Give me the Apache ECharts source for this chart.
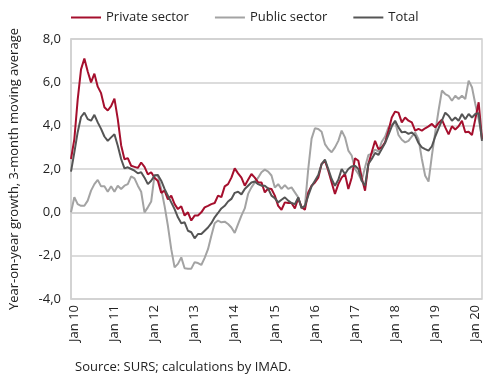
<!DOCTYPE html>
<html>
<head>
<meta charset="utf-8">
<script src="https://cdn.jsdelivr.net/npm/echarts@6/dist/echarts.min.js"></script>
<style>
html,body{margin:0;padding:0;background:#fff;}
#chart{width:490px;height:381px;}
</style>
</head>
<body>
<div id="chart"></div>
<script>
// Monthly data, Dec 2009 .. Mar 2020
const startYear = 2009, startMonth = 11, nPoints = 124;
const monthNames = ["Jan","Feb","Mar","Apr","May","Jun","Jul","Aug","Sep","Oct","Nov","Dec"];
const categories = [];
for (let k = 0; k < nPoints; k++) {
  const m = (startMonth + k) % 12;
  const y = startYear + Math.floor((startMonth + k) / 12);
  categories.push(monthNames[m] + " " + String(y % 100).padStart(2, "0"));
}
const tickLabels = ["Jan 10","Jan 11","Jan 12","Jan 13","Jan 14","Jan 15","Jan 16","Jan 17","Jan 18","Jan 19","Jan 20"];
const yTicks = [-4, -2, 0, 2, 4, 6, 8];

const privateSector = [
  2.46, 3.38, 5.2, 6.6, 7.1, 6.5, 6.0, 6.4, 5.8, 5.5,
  4.85, 4.7, 4.9, 5.25, 4.3, 3.1, 2.45, 2.5, 2.15, 2.1,
  2.05, 2.3, 2.1, 1.75, 1.85, 1.6, 1.45, 0.9, 1.0, 0.6,
  0.77, 0.38, 0.15, 0.28, -0.15, 0.0, -0.38, -0.15, -0.15, 0.0,
  0.23, 0.3, 0.38, 0.43, 0.77, 0.7, 1.2, 1.3, 1.6, 2.03,
  1.8, 1.6, 1.23, 1.5, 1.77, 1.6, 1.38, 1.38, 0.92, 1.1,
  1.08, 0.77, 0.3, 0.12, 0.46, 0.43, 0.43, 0.18, 0.65, 0.25,
  0.12, 0.92, 1.23, 1.38, 1.6, 2.23, 2.38, 1.92, 1.38, 0.85,
  1.3, 1.6, 1.77, 1.08, 1.6, 2.5, 2.38, 1.6, 1.0, 2.23,
  2.77, 3.3, 2.92, 3.0, 3.23, 3.77, 4.38, 4.65, 4.6, 4.15,
  4.38, 4.23, 4.15, 3.77, 3.85, 3.77, 3.88, 3.97, 4.08, 3.92,
  4.12, 4.28, 3.92, 3.6, 3.97, 3.82, 3.97, 4.23, 3.7, 3.72,
  3.57, 4.3, 5.08, 3.38
];
const publicSector = [
  0.0, 0.7, 0.38, 0.3, 0.3, 0.54, 1.0, 1.3, 1.5, 1.2,
  1.2, 0.95, 1.2, 0.95, 1.23, 1.08, 1.23, 1.3, 1.66, 1.57,
  1.23, 0.95, 0.0, 0.23, 0.5, 1.72, 1.7, 1.08, 0.3, -0.62,
  -1.7, -2.54, -2.38, -2.08, -2.58, -2.6, -2.6, -2.3, -2.34, -2.43,
  -2.1, -1.7, -1.08, -0.5, -0.38, -0.46, -0.43, -0.54, -0.7, -0.95,
  -0.54, -0.15, 0.18, 0.85, 1.15, 1.38, 1.6, 1.85, 1.97, 1.88,
  1.7, 1.15, 1.3, 1.08, 1.26, 1.08, 1.15, 0.92, 0.69, 0.18,
  0.3, 2.0, 3.4, 3.88, 3.85, 3.72, 3.15, 2.92, 2.77, 3.0,
  3.3, 3.77, 3.46, 2.85, 2.62, 2.0, 1.77, 1.46, 2.08, 2.65,
  2.7, 2.9, 2.8, 3.26, 3.5, 3.92, 4.03, 4.18, 3.57, 3.35,
  3.23, 3.3, 3.5, 3.69, 3.38, 2.46, 1.69, 1.42, 2.62, 3.69,
  4.7, 5.62, 5.46, 5.38, 5.15, 5.38, 5.23, 5.38, 5.23, 6.08,
  5.77, 5.0, 4.3, 3.46
];
const total = [
  1.88, 2.77, 3.7, 4.4, 4.6, 4.3, 4.23, 4.5, 4.15, 3.85,
  3.5, 3.3, 3.46, 3.6, 3.07, 2.46, 2.03, 2.08, 2.0, 1.92,
  1.8, 1.85, 1.6, 1.3, 1.46, 1.7, 1.72, 1.46, 1.08, 0.77,
  0.46, 0.15, -0.23, -0.5, -0.46, -0.85, -0.92, -1.2, -1.0, -1.0,
  -0.85, -0.7, -0.5, -0.23, -0.03, 0.18, 0.3, 0.5, 0.62, 0.9,
  0.95, 0.83, 1.08, 1.23, 1.38, 1.42, 1.3, 1.23, 1.23, 1.1,
  0.77, 0.65, 0.46, 0.58, 0.69, 0.54, 0.43, 0.38, 0.69, 0.2,
  0.3, 0.77, 1.2, 1.46, 1.72, 2.23, 2.43, 2.0, 1.54, 1.23,
  1.5, 2.0, 1.77, 2.0, 2.12, 2.15, 2.0, 1.46, 1.23, 2.23,
  2.46, 2.74, 2.65, 2.92, 3.2, 3.57, 3.97, 4.23, 3.92, 3.69,
  3.72, 3.62, 3.69, 3.54, 3.2, 3.0, 2.92, 2.85, 3.05, 3.5,
  3.88, 4.23, 4.6, 4.46, 4.23, 4.38, 4.23, 4.54, 4.3, 4.54,
  4.38, 4.54, 4.58, 3.3
];

const FONT = "'Open Sans', 'Noto Sans', sans-serif";
const chart = echarts.init(document.getElementById('chart'), null, {renderer: 'canvas'});
const seriesDef = (name, data, color, z) => ({
  name, type: 'line', data, symbol: 'none', smooth: false, z,
  lineStyle: {color, width: 2}, itemStyle: {color}
});
chart.setOption({
  animation: false,
  textStyle: {fontFamily: FONT},
  legend: {
    top: 6, left: 66, icon: 'rect', itemWidth: 30, itemHeight: 2, itemGap: 26,
    textStyle: {fontFamily: FONT, fontSize: 13, color: '#222'},
    data: ['Private sector', 'Public sector', 'Total']
  },
  grid: {left: 67, right: 8, top: 39, height: 260, show: true, borderColor: '#d0d0d0', borderWidth: 1.5, containLabel: false},
  xAxis: {
    type: 'category', data: categories, boundaryGap: false,
    axisLine: {show: true, lineStyle: {color: '#d0d0d0', width: 1.5}},
    axisTick: {show: false},
    splitLine: {show: false},
    axisLabel: {
      rotate: 90, margin: 6, fontSize: 13, color: '#222', fontFamily: FONT,
      interval: (idx, val) => tickLabels.indexOf(val) >= 0
    }
  },
  yAxis: {
    type: 'value', min: yTicks[0], max: yTicks[yTicks.length - 1], interval: 2,
    name: 'Year-on-year growth, 3-month moving average',
    nameLocation: 'middle', nameGap: 50,
    nameTextStyle: {fontSize: 13, color: '#222', fontFamily: FONT},
    axisLine: {show: true, lineStyle: {color: '#d0d0d0', width: 1.5}},
    axisTick: {show: false},
    splitLine: {show: true, lineStyle: {color: '#d0d0d0', width: 1.5}},
    axisLabel: {
      fontSize: 13, color: '#222', margin: 10, fontFamily: FONT,
      formatter: v => v.toFixed(1).replace('.', ',')
    }
  },
  graphic: [{
    type: 'text', left: 75, top: 361,
    style: {text: 'Source: SURS; calculations by IMAD.', fontSize: 13, fill: '#222', fontFamily: FONT}
  }],
  series: [
    seriesDef('Private sector', privateSector, '#a50f2d', 3),
    seriesDef('Public sector', publicSector, '#a3a3a3', 2),
    seriesDef('Total', total, '#555555', 4)
  ]
});
</script>
</body>
</html>
